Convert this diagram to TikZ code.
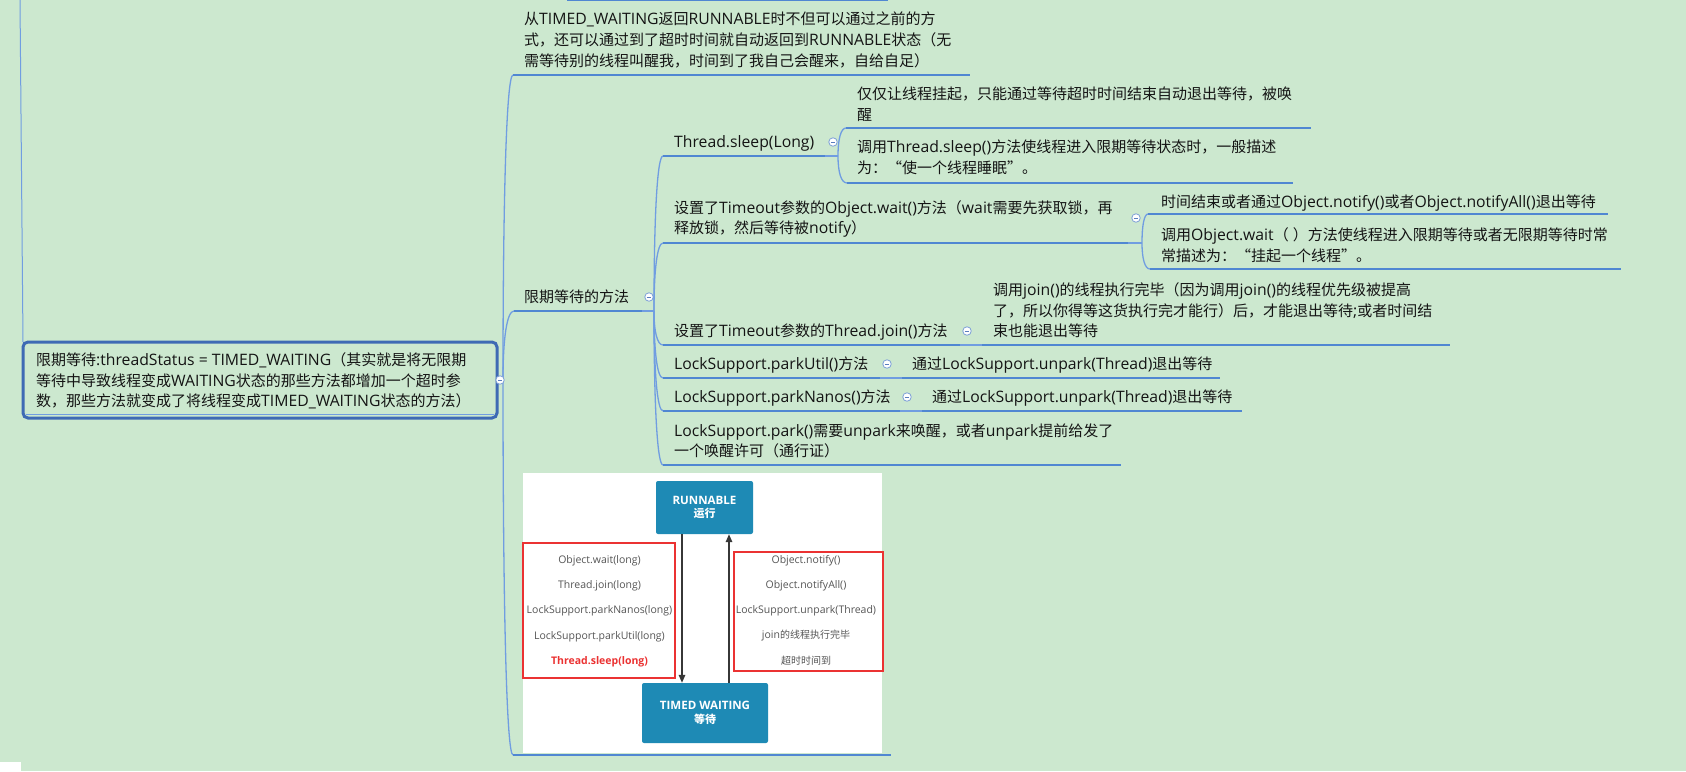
\documentclass[tikz,border=0pt]{standalone}
\usepackage{fontspec}
\setmainfont{Open Sans}[Scale=1.05]
\newfontfamily\cjkfont{Noto Sans CJK SC}
\usetikzlibrary{calc,arrows.meta}
% switch to the CJK font for CJK characters
\XeTeXinterchartokenstate=1
\newXeTeXintercharclass\CJKcls
\newcount\cjkcc
\def\setcjkrange#1#2{\cjkcc=#1\relax\loop\XeTeXcharclass\cjkcc=\CJKcls\relax\ifnum\cjkcc<#2\relax\advance\cjkcc by 1\relax\repeat}
\setcjkrange{"4E00}{"9FFF}
\setcjkrange{"3000}{"303F}
\setcjkrange{"FF00}{"FFEF}
\XeTeXcharclass"201C=\CJKcls
\XeTeXcharclass"201D=\CJKcls
\XeTeXinterchartoks 0 \CJKcls = {\cjkfont}
\XeTeXinterchartoks 4095 \CJKcls = {\cjkfont}
\XeTeXinterchartoks \CJKcls 0 = {\rmfamily}
\XeTeXinterchartoks \CJKcls 4095 = {\rmfamily}
\definecolor{bg}{RGB}{204,232,207}
\definecolor{txt}{RGB}{20,20,20}
\definecolor{ul}{RGB}{80,135,210}
\definecolor{cn}{RGB}{112,157,225}
\definecolor{rb}{RGB}{62,106,180}
\definecolor{fd}{RGB}{125,160,215}
\definecolor{fdm}{RGB}{90,125,190}
\definecolor{stb}{RGB}{30,138,181}
\definecolor{rd}{RGB}{235,50,50}
\definecolor{gy}{RGB}{85,85,85}
\definecolor{ar}{RGB}{55,55,55}
\begin{document}
\begin{tikzpicture}[x=1pt,y=-1pt,
 topic/.style={anchor=base west, inner sep=0pt, align=left, text=txt, font=\fontsize{15}{21}\selectfont},
 uline/.style={draw=ul, line width=2.8pt},
 conn/.style={draw=cn, line width=1.3pt},
 xbranch/.style={to path={.. controls ($(\tikztostart)!0.6!(\tikztostart |- \tikztotarget)$) and ($(\tikztotarget)!0.65!(\tikztostart |- \tikztotarget)$) .. (\tikztotarget)}},
 fold/.style={circle, draw=fd, fill=white, line width=0.8pt, minimum size=8.5pt, inner sep=0pt,
   path picture={\draw[fdm, line width=0.9pt] ([xshift=-2.2pt]path picture bounding box.center) -- ([xshift=2.2pt]path picture bounding box.center);}},
 stbox/.style={fill=stb, rounded corners=2pt, inner sep=0pt, align=center, text=white, font=\bfseries\fontsize{11}{13.5}\selectfont},
 redbox/.style={draw=rd, line width=2.5pt, inner sep=0pt},
 gtext/.style={align=center, text=gy, inner sep=0pt, font=\fontsize{10}{25.3}\selectfont},
 arr/.style={draw=ar, line width=1.5pt, -{Triangle[length=8pt,width=6.5pt]}}
]
\fill[bg] (0,0) rectangle (1686,771);
\useasboundingbox (0,0) rectangle (1686,771);
\fill[white] (0,762) rectangle (21,771);

% incoming line and cut-off line at the top
\coordinate (inTop) at (20,0);
\coordinate (inEnd) at (23,342);
\draw[conn, line width=1pt] (inTop) -- (inEnd);
\coordinate (topA) at (567,-0.3);
\coordinate (topB) at (888,-0.3);
\draw[uline] (topA) -- (topB);

% root
\node[draw=rb, line width=3pt, rounded corners=5pt, minimum width=474pt, minimum height=76pt, inner sep=0pt] (rootbox) at (260,380) {};
\coordinate (rootlA) at (26,414.5);
\coordinate (rootlB) at (494,414.5);
\draw[draw=cn, line width=1.5pt] (rootlA) -- (rootlB);
\node[topic, font=\fontsize{15}{20.5}\selectfont] (root) at (36,406.5)
 {限期等待:threadStatus = TIMED\_WAITING（其实就是将无限期\\等待中导致线程变成WAITING状态的那些方法都增加一个超时参\\数，那些方法就变成了将线程变成TIMED\_WAITING状态的方法）};

% first level ports and underlines
\coordinate (r0) at (503,380);
\coordinate (u1s) at (513,75);  \coordinate (u1e) at (970,75);
\coordinate (u2s) at (514,311); \coordinate (u2e) at (642,311); \coordinate (p2) at (654,311);
\coordinate (u3s) at (513,755); \coordinate (u3e) at (891,755);
\draw[conn] (r0) to[xbranch] (u1s);
\draw[conn] (r0) to[xbranch] (u2s);
\draw[conn] (r0) to[xbranch] (u3s);
\draw[uline] (u1s) -- (u1e);
\draw[uline] (u2s) -- (u2e);
\draw[conn] (u2e) -- (p2);
\draw[uline] (u3s) -- (u3e);
\node[fold] (f0) at (500,380) {};

\node[topic] (t1) at (524,66.5)
 {从TIMED\_WAITING返回RUNNABLE时不但可以通过之前的方\\式，还可以通过到了超时时间就自动返回到RUNNABLE状态（无\\需等待别的线程叫醒我，时间到了我自己会醒来，自给自足）};
\node[topic] (tm) at (524,302.5) {限期等待的方法};
\node[fold] (f1) at (649,297) {};

% second level
\coordinate (a1s) at (663,156); \coordinate (a1e) at (825,156); \coordinate (pa1) at (838,156);
\coordinate (a2s) at (663,243); \coordinate (a2e) at (1128,243); \coordinate (pa2) at (1142,243);
\coordinate (a3s) at (663,345); \coordinate (a3e) at (960,345); \coordinate (pa3) at (982,345);
\coordinate (a4s) at (663,378); \coordinate (a4e) at (880,378); \coordinate (pa4) at (902,378);
\coordinate (a5s) at (663,411); \coordinate (a5e) at (900,411); \coordinate (pa5) at (922,411);
\coordinate (a6s) at (663,465); \coordinate (a6e) at (1121,465);
\foreach \n in {a1s,a2s,a3s,a4s,a5s,a6s} {\draw[conn] (p2) to[xbranch] (\n);}
\draw[uline] (a1s) -- (a1e);
\draw[uline] (a2s) -- (a2e);
\draw[uline] (a3s) -- (a3e);
\draw[uline] (a4s) -- (a4e);
\draw[uline] (a5s) -- (a5e);
\draw[uline] (a6s) -- (a6e);
\draw[conn] (a1e) -- (pa1);
\draw[conn] (a2e) -- (pa2);
\draw[conn] (a3e) -- (pa3);
\draw[conn] (a4e) -- (pa4);
\draw[conn] (a5e) -- (pa5);

\node[topic] (ts) at (674,147.5) {Thread.sleep(Long)};
\node[fold] (f2) at (833,142) {};
\node[topic, font=\fontsize{15}{20}\selectfont] (tw) at (674,233.5)
 {设置了Timeout参数的Object.wait()方法（wait需要先获取锁，再\\释放锁，然后等待被notify）};
\node[fold] (f3) at (1136,218) {};
\node[topic] (tj) at (674,336.5) {设置了Timeout参数的Thread.join()方法};
\node[fold] (f4) at (967,331) {};
\node[topic] (tu) at (674,369.5) {LockSupport.parkUtil()方法};
\node[fold] (f5) at (887,364) {};
\node[topic] (tn) at (674,402.5) {LockSupport.parkNanos()方法};
\node[fold] (f6) at (907,397) {};
\node[topic, font=\fontsize{15}{20}\selectfont] (tp) at (674,456.5)
 {LockSupport.park()需要unpark来唤醒，或者unpark提前给发了\\一个唤醒许可（通行证）};

% third level
\coordinate (b1s) at (846,128);  \coordinate (b1e) at (1311,128);
\coordinate (b2s) at (847,183);  \coordinate (b2e) at (1293,183);
\coordinate (c1s) at (1148,214); \coordinate (c1e) at (1608,214);
\coordinate (c2s) at (1150,269); \coordinate (c2e) at (1621,269);
\coordinate (d1e) at (1450,345);
\coordinate (e1e) at (1220,378);
\coordinate (g1e) at (1242,411);
\draw[conn] (pa1) to[xbranch] (b1s);
\draw[conn] (pa1) to[xbranch] (b2s);
\draw[conn] (pa2) to[xbranch] (c1s);
\draw[conn] (pa2) to[xbranch] (c2s);
\draw[uline] (b1s) -- (b1e);
\draw[uline] (b2s) -- (b2e);
\draw[uline] (c1s) -- (c1e);
\draw[uline] (c2s) -- (c2e);
\draw[uline] (pa3) -- (d1e);
\draw[uline] (pa4) -- (e1e);
\draw[uline] (pa5) -- (g1e);

\node[topic] (tsa) at (857,120.5) {仅仅让线程挂起，只能通过等待超时时间结束自动退出等待，被唤\\醒};
\node[topic] (tsb) at (857,173.5) {调用Thread.sleep()方法使线程进入限期等待状态时，一般描述\\为：“使一个线程睡眠”。};
\node[topic] (twa) at (1161,207.5) {时间结束或者通过Object.notify()或者Object.notifyAll()退出等待};
\node[topic] (twb) at (1161,261.5) {调用Object.wait（ ）方法使线程进入限期等待或者无限期等待时常\\常描述为：“挂起一个线程”。};
\node[topic, font=\fontsize{15}{20.5}\selectfont] (tja) at (993,336.5)
 {调用join()的线程执行完毕（因为调用join()的线程优先级被提高\\了，所以你得等这货执行完才能行）后，才能退出等待;或者时间结\\束也能退出等待};
\node[topic] (tua) at (912,369.5) {通过LockSupport.unpark(Thread)退出等待};
\node[topic] (tna) at (932,402.5) {通过LockSupport.unpark(Thread)退出等待};

% embedded picture
\node[fill=white, inner sep=0pt, minimum width=359pt, minimum height=280pt, anchor=north west] (img) at (523,473) {};
\node[stbox, minimum width=97pt, minimum height=53pt] (run) at (704.5,507.5) {RUNNABLE\\运行};
\node[stbox, minimum width=126pt, minimum height=60pt] (twt) at (705,713) {TIMED WAITING\\等待};
\draw[arr] ([xshift=-22.5pt]run.south) -- ([xshift=-23pt]twt.north);
\draw[arr] ([xshift=24pt]twt.north) -- ([xshift=24.5pt]run.south);
\node[redbox, minimum width=152pt, minimum height=135pt] (lbox) at (599,610.5) {};
\node[redbox, minimum width=149pt, minimum height=119pt] (rbox) at (808.5,611.5) {};
\node[gtext] (ltext) at (599.5,611)
 {Object.wait(long)\\Thread.join(long)\\LockSupport.parkNanos(long)\\LockSupport.parkUtil(long)\\{\color{rd}\bfseries Thread.sleep(long)}};
\node[gtext] (rtext) at (806,610)
 {Object.notify()\\Object.notifyAll()\\LockSupport.unpark(Thread)\\join的线程执行完毕\\超时时间到};
\end{tikzpicture}
\end{document}
